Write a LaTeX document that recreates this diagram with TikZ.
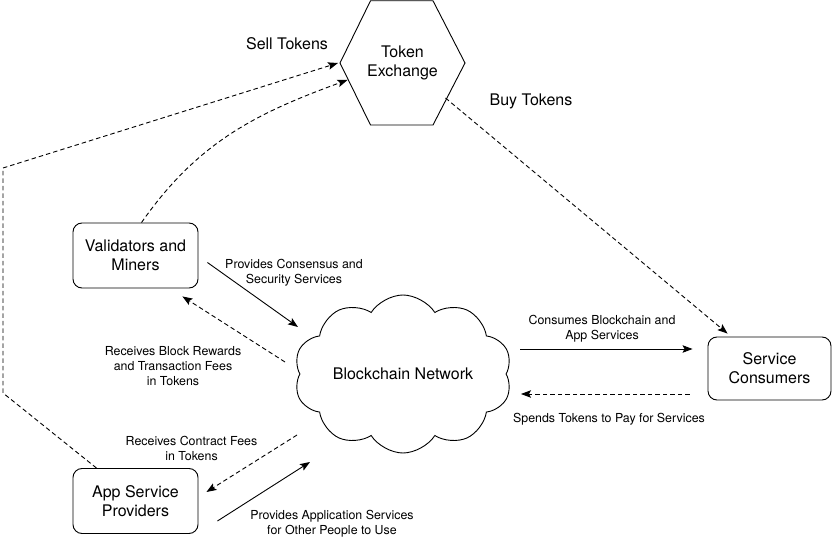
\documentclass[tikz,border=0pt]{standalone}
\usepackage{fontspec}
\setmainfont{TeX Gyre Heros}
\usetikzlibrary{shapes.symbols,arrows.meta,calc}
\begin{document}
\begin{tikzpicture}[x=1pt,y=-1pt,
  big/.style={font=\fontsize{16}{19}\selectfont, align=center},
  small/.style={font=\fontsize{12.4}{15}\selectfont, align=center},
  actor/.style={draw, line width=0.9pt, rounded corners=9pt, minimum width=125pt, minimum height=65pt, big, inner sep=2pt},
  conn/.style={line width=0.9pt, -{Stealth[length=10pt,width=7.5pt,inset=2pt]}},
  dconn/.style={conn, dash pattern=on 4.5pt off 3pt},
  dline/.style={line width=0.9pt, dash pattern=on 4.5pt off 3pt}]
\useasboundingbox (0,0) rectangle (833,545);
% nodes
\node[big] (tx) at (402.5,63) {Token\\Exchange};
\draw[line width=0.9pt] ($(tx.center)+(-62.5,0)$) coordinate (hl) -- ($(tx.center)+(-32,-62.2)$) -- ($(tx.center)+(30.5,-62.2)$) -- ($(tx.center)+(62.5,0)$) -- ($(tx.center)+(30.5,62)$) -- ($(tx.center)+(-32,62)$) -- cycle;
\node[actor] (val) at (135.5,255.5) {Validators and\\Miners};
\node[actor] (app) at (135.5,501) {App Service\\Providers};
\node[actor, minimum width=123pt, minimum height=63pt] (sc) at (769.5,368.5) {Service\\Consumers};
\node[cloud, draw, line width=0.9pt, cloud puffs=10, cloud puff arc=115, aspect=1.36, minimum width=218pt, minimum height=158pt, inner sep=0pt] (bc) at (403,374) {};
\node[big] (bct) at (bc.center) {Blockchain Network};
% connectors
\draw[dconn] ($(val.north)+(6,0)$) to[out=55,in=200] ($(tx.center)+(-55,17)$);
\draw[dline] ($(app.north)+(-39,0)$) -- (3,393) coordinate (c1) -- (3,168) coordinate (c2);
\draw[dconn] (c2) -- ($(hl)+(-2,0)$);
\draw[dconn] ($(tx.center)+(43,35)$) -- ($(sc.north west)+(20,-3)$);
\draw[conn] ($(val.east)+(9,7)$) -- ($(bc.center)+(-105,-47)$);
\draw[dconn] ($(bc.center)+(-118,-12)$) -- ($(val.south east)+(-16,8)$);
\draw[dconn] ($(bc.center)+(-106,61)$) -- ($(app.east)+(8,-9)$);
\draw[conn] ($(app.east)+(19,20)$) -- ($(bc.center)+(-93,88)$);
\draw[conn] ($(bc.center)+(117,-25)$) -- ($(sc.west)+(-15,-19.5)$);
\draw[dconn] ($(sc.west)+(-18,25.5)$) -- ($(bc.center)+(118,20)$);
% labels
\node[big] (lsell) at (287,44) {Sell Tokens};
\node[big] (lbuy) at (531,101) {Buy Tokens};
\node[small] (l1) at (294,272.5) {Provides Consensus and\\Security Services};
\node[small] (l2) at (173,366) {Receives Block Rewards\\and Transaction Fees\\in Tokens};
\node[small] (l3) at (191.5,448) {Receives Contract Fees\\in Tokens};
\node[small] (l4) at (332,523.5) {Provides Application Services\\for Other People to Use};
\node[small] (l5) at (602,328.5) {Consumes Blockchain and\\App Services};
\node[small] (l6) at (609,419) {Spends Tokens to Pay for Services};
\end{tikzpicture}
\end{document}
